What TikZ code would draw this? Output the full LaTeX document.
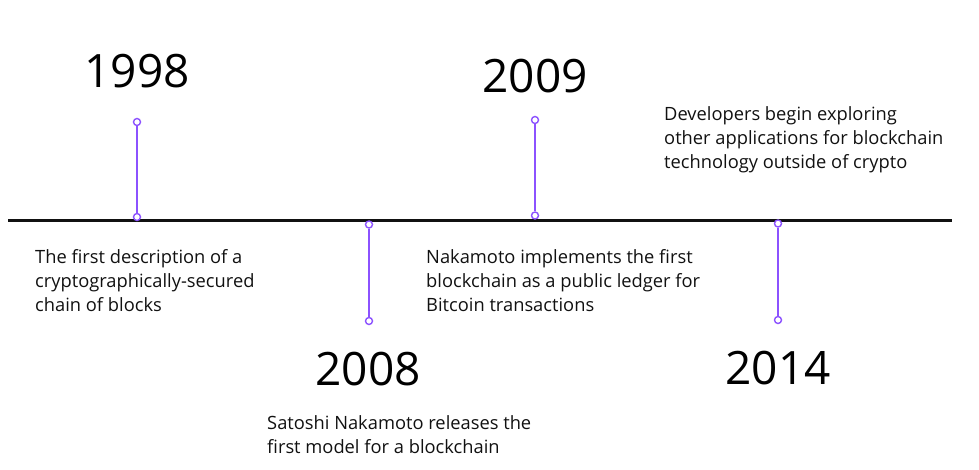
\documentclass[tikz,border=0pt]{standalone}
\usepackage{fontspec}
\setmainfont{Open Sans}
\definecolor{stem}{HTML}{8C52FF}
\definecolor{ink}{HTML}{111111}
\begin{document}
\begin{tikzpicture}[x=1pt,y=-1pt,
  dot/.style={circle,draw=stem,fill=white,line width=1.4pt,minimum size=7pt,inner sep=0pt},
  stemline/.style={draw=stem,line width=1.7pt},
  axis/.style={draw=ink,line width=2.2pt},
  year/.style={anchor=base,inner sep=0pt,font=\fontsize{46}{50}\selectfont,text=black},
  desc/.style={anchor=base west,inner sep=0pt,font=\fontsize{18.3}{24.3}\selectfont,text=ink}]
\useasboundingbox (0,0) rectangle (979,469);
\coordinate (L) at (8,220.5);
\coordinate (R) at (952,220.5);
\draw[axis] (L) -- (R);
% 1998
\node[dot] (a1) at (137,122) {};
\node[dot] (a2) at (137,217) {};
\draw[stemline] (a1) -- (a2);
\node[year] (ya) at (137,87.5) {1998};
\node[desc] (ta) at (35,263) {\begin{tabular}[t]{@{}l@{}}The first description of a\\cryptographically-secured\\chain of blocks\end{tabular}};
% 2008
\node[dot] (b1) at (369,224.5) {};
\node[dot] (b2) at (369,321) {};
\draw[stemline] (b1) -- (b2);
\node[year] (yb) at (368,385) {2008};
\node[desc] (tb) at (267,429) {\begin{tabular}[t]{@{}l@{}}Satoshi Nakamoto releases the\\first model for a blockchain\end{tabular}};
% 2009
\node[dot] (c1) at (535,120) {};
\node[dot] (c2) at (535,215.5) {};
\draw[stemline] (c1) -- (c2);
\node[year] (yc) at (535,92) {2009};
\node[desc] (tc) at (426,263) {\begin{tabular}[t]{@{}l@{}}Nakamoto implements the first\\blockchain as a public ledger for\\Bitcoin transactions\end{tabular}};
% 2014
\node[dot] (d1) at (778,223.5) {};
\node[dot] (d2) at (778,320) {};
\draw[stemline] (d1) -- (d2);
\node[year] (yd) at (778,384) {2014};
\node[desc] (td) at (664,120) {\begin{tabular}[t]{@{}l@{}}Developers begin exploring\\other applications for blockchain\\technology outside of crypto\end{tabular}};
\end{tikzpicture}
\end{document}
